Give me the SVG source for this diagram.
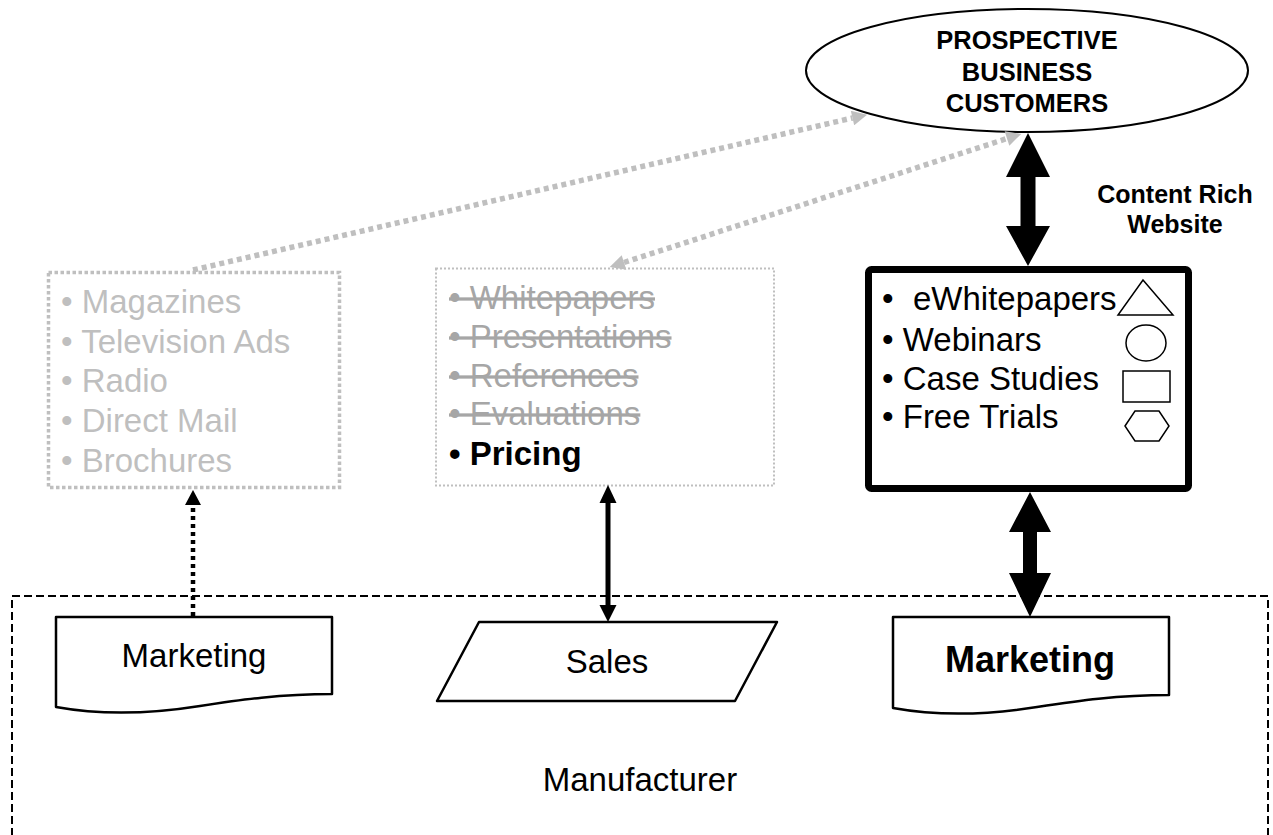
<svg xmlns="http://www.w3.org/2000/svg" width="1273" height="835" viewBox="0 0 1273 835">
<style>
text{font-family:"Liberation Sans",Arial,Helvetica,sans-serif;}
.t33{font-size:33px;}
.gray1{fill:#bfbfbf;}
.gray2{fill:#a6a6a6;text-decoration:line-through;}
.blk{fill:#000;}
.bold{font-weight:bold;}
.mid{text-anchor:middle;}
.shape{fill:#fff;stroke:#000;stroke-width:2.5;stroke-linejoin:round;}
.thin{fill:#fff;stroke:#000;stroke-width:1.5;}
.gdot{fill:none;stroke:#bfbfbf;stroke-width:5.5;stroke-dasharray:5 4;}
</style>
<defs>
<marker id="ga" viewBox="0 0 10 10" refX="0" refY="5" markerWidth="18" markerHeight="15" markerUnits="userSpaceOnUse" orient="auto-start-reverse">
<path d="M0,0 L10,5 L0,10 Z" fill="#bfbfbf"/>
</marker>
</defs>
<rect width="1273" height="835" fill="#fff"/>

<g id="manufacturer">
<rect x="12" y="596" width="1256" height="262" fill="none" stroke="#000" stroke-width="2" stroke-dasharray="8 4"/>
<text class="t33 mid" x="640" y="791">Manufacturer</text>
</g>

<g id="customers">
<ellipse cx="1027" cy="70.5" rx="221" ry="61.5" fill="#fff" stroke="#000" stroke-width="2"/>
<text class="bold mid" font-size="25.5" x="1027" y="49">PROSPECTIVE</text>
<text class="bold mid" font-size="25.5" x="1027" y="80.5">BUSINESS</text>
<text class="bold mid" font-size="25.5" x="1027" y="112">CUSTOMERS</text>
</g>

<g id="website-label">
<text class="bold mid" font-size="25" x="1175" y="203">Content Rich</text>
<text class="bold mid" font-size="25" x="1175" y="233">Website</text>
</g>

<g id="traditional-media">
<rect x="48.5" y="272.5" width="291" height="215" fill="none" stroke="#bfbfbf" stroke-width="3.5" stroke-dasharray="3.5 2.5"/>
<text class="t33 gray1" x="61" y="313">• Magazines</text>
<text class="t33 gray1" x="61" y="353">• Television Ads</text>
<text class="t33 gray1" x="61" y="392">• Radio</text>
<text class="t33 gray1" x="61" y="432">• Direct Mail</text>
<text class="t33 gray1" x="61" y="472">• Brochures</text>
</g>

<g id="sales-content">
<rect x="436" y="268.5" width="338" height="217" fill="none" stroke="#bfbfbf" stroke-width="2" stroke-dasharray="2 2"/>
<text class="t33 gray2" x="449" y="309">• Whitepapers</text>
<text class="t33 gray2" x="449" y="348">• Presentations</text>
<text class="t33 gray2" x="449" y="387">• References</text>
<text class="t33 gray2" x="449" y="425">• Evaluations</text>
<text class="t33 blk bold" x="449" y="465">• Pricing</text>
</g>

<g id="website">
<rect x="868.5" y="269.5" width="320" height="219" rx="3" fill="#fff" stroke="#000" stroke-width="7"/>
<text class="t33 blk" x="882" y="310">•<tspan x="913">eWhitepapers</tspan></text>
<text class="t33 blk" x="882" y="351">• Webinars</text>
<text class="t33 blk" x="882" y="390">• Case Studies</text>
<text class="t33 blk" x="882" y="428">• Free Trials</text>
<polygon class="thin" points="1143,280 1173,315 1118,315"/>
<ellipse class="thin" cx="1146" cy="343" rx="20" ry="18"/>
<rect class="thin" x="1123" y="371" width="47" height="31"/>
<polygon class="thin" points="1125,426 1135,411 1159,411 1169,426 1159,441 1135,441"/>
</g>

<g id="marketing-left">
<path class="shape" d="M56,617 H332 V694 C280,694 240,700 200,706 C150,714 100,715 56,707 Z"/>
<text class="t33 mid" x="194" y="667">Marketing</text>
</g>

<g id="sales">
<polygon class="shape" points="479,622 777,622 735,701 437,701"/>
<text class="t33 mid" x="607" y="673">Sales</text>
</g>

<g id="marketing-right">
<path class="shape" d="M893,617 H1169 V695 C1117,695 1077,701 1037,707 C987,715 937,716 893,708 Z"/>
<text class="bold mid" font-size="36" x="1030" y="672">Marketing</text>
</g>

<g id="connectors">
<line class="gdot" x1="193" y1="270" x2="852.5" y2="118" marker-end="url(#ga)"/>
<line class="gdot" x1="624" y1="262.5" x2="1007" y2="138.5" marker-start="url(#ga)" marker-end="url(#ga)"/>
<polygon fill="#000" points="1028,133 1050,177 1035.5,177 1035.5,226 1050,226 1028,266 1006,226 1020.5,226 1020.5,177 1006,177"/>
<polygon fill="#000" points="1030,492 1051,532 1037,532 1037,573 1051,573 1030,617 1009,573 1023,573 1023,532 1009,532"/>
<line x1="608" y1="501" x2="608" y2="607" stroke="#000" stroke-width="5"/>
<polygon fill="#000" points="608,485 616.5,503 599.5,503"/>
<polygon fill="#000" points="608,622 616.5,605 599.5,605"/>
<line x1="193" y1="616" x2="193" y2="505" stroke="#000" stroke-width="4.5" stroke-dasharray="4 4"/>
<polygon fill="#000" points="193,490 201,505 185,505"/>
</g>
</svg>
